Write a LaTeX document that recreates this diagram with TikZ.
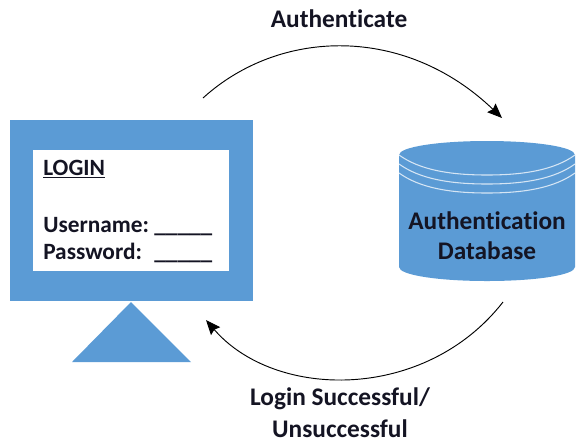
\documentclass[tikz,border=0pt]{standalone}
\usepackage{fontspec}
\setmainfont[Ligatures=NoCommon]{Carlito}
\usetikzlibrary{arrows.meta}

\definecolor{screenblue}{RGB}{91,155,213}
\tikzset{
  labeltext/.style={inner sep=0pt,font=\fontsize{19pt}{23pt}\selectfont\bfseries,color={rgb, 255:red, 20; green, 20; blue, 35 }},
  formtext/.style={labeltext,font=\fontsize{17.5pt}{21pt}\selectfont\bfseries},
  flowarrow/.style={line width=0.7pt,-{Stealth[length=11pt,width=9pt,inset=1.5pt]}},
}

\begin{document}
\begin{tikzpicture}[x=0.75pt,y=0.75pt,yscale=-1,xscale=1]
\useasboundingbox (0,0) rectangle (577,444);

%Screen
\fill [color=screenblue] (10,120) rectangle (253,301);
\fill [color=white] (33,150) rectangle (229,271);
%Stand
\fill [color=screenblue] (131,302) -- (191,362) -- (72,362) -- cycle;

%Database
\fill [color=screenblue] (399,155) .. controls (399,147) and (438,141) .. (487,141) .. controls (536,141) and (575,147) .. (575,155) -- (575,267) .. controls (575,275) and (536,281) .. (487,281) .. controls (438,281) and (399,275) .. (399,267) -- cycle;
%Database rings
\draw [color=white,opacity=0.75,line width=0.8pt] (399,155) .. controls (420,170) and (450,175) .. (487,175) .. controls (524,175) and (554,170) .. (575,155);
\draw [color=white,opacity=0.75,line width=0.8pt] (399,164) .. controls (420,179) and (450,184) .. (487,184) .. controls (524,184) and (554,179) .. (575,164);
\draw [color=white,opacity=0.75,line width=0.8pt] (399,173) .. controls (420,188) and (450,193) .. (487,193) .. controls (524,193) and (554,188) .. (575,173);

%Curve Lines
\coordinate (authstart) at (203,98);
\coordinate (authend) at (502,118);
\coordinate (resultstart) at (503,302);
\coordinate (resultend) at (206,320);
\draw [flowarrow] (authstart) .. controls (280,28) and (405,25) .. (authend);
\draw [flowarrow] (resultstart) .. controls (425,402) and (275,400) .. (resultend);

% Text Node
\node (authenticate) at (339,27) [anchor=base,labeltext] {Authenticate};
% Text Node
\node (login) at (43,175) [anchor=base west,formtext] {\underline{LOGIN}};
% Text Node
\node (username) at (43,232) [anchor=base west,formtext] {Username:};
% Text Node
\node (password) at (43,259) [anchor=base west,formtext] {Password:};
% Text Node
\node (usernameline) at (154,232) [anchor=base west,formtext] {\_\_\_\_\_};
% Text Node
\node (passwordline) at (154,259) [anchor=base west,formtext] {\_\_\_\_\_};
% Text Node
\node (authentication) at (487,229) [anchor=base,labeltext] {Authentication};
% Text Node
\node (database) at (487,259) [anchor=base,labeltext] {Database};
% Text Node
\node (successful) at (340,405) [anchor=base,labeltext] {Login Successful/};
% Text Node
\node (unsuccessful) at (340,437) [anchor=base,labeltext] {Unsuccessful};

\end{tikzpicture}
\end{document}
